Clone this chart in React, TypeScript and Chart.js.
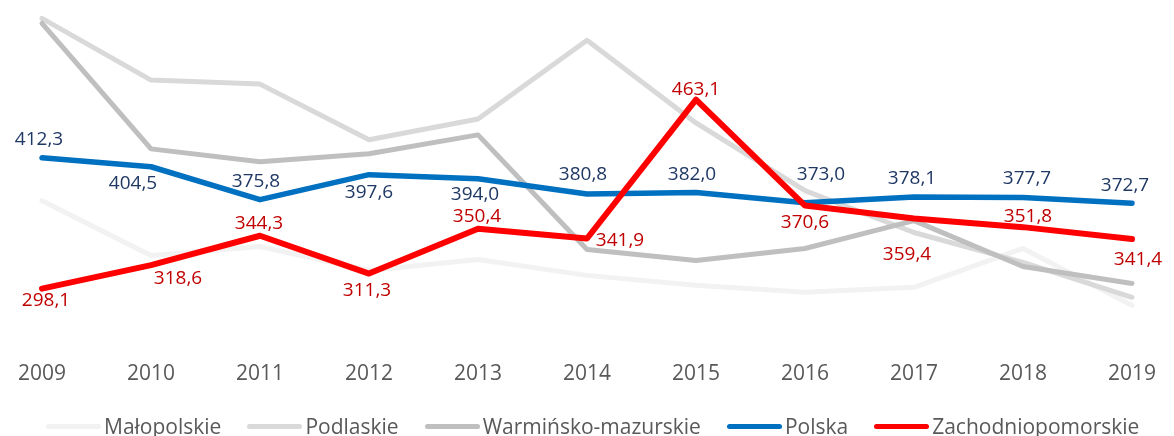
import React, { useEffect, useRef } from 'react';
import { Chart, registerables } from 'chart.js';

Chart.register(...registerables);

// ---- data ----
const years = ['2009', '2010', '2011', '2012', '2013', '2014', '2015', '2016', '2017', '2018', '2019'];
const malopolskie = [374.9, 327.1, 334.9, 314.0, 323.6, 309.7, 301.0, 294.9, 299.3, 333.2, 283.6];
const podlaskie = [534.0, 480.1, 476.6, 428.0, 446.2, 514.9, 442.7, 383.6, 347.1, 321.0, 290.6];
const warminsko = [529.7, 420.1, 408.8, 415.8, 432.3, 332.3, 322.7, 333.2, 357.5, 317.5, 302.7];
const polska = [412.3, 404.5, 375.8, 397.6, 394.0, 380.8, 382.0, 373.0, 378.1, 377.7, 372.7];
const zachodniopomorskie = [298.1, 318.6, 344.3, 311.3, 350.4, 341.9, 463.1, 370.6, 359.4, 351.8, 341.4];

const seriesNames = ['Małopolskie', 'Podlaskie', 'Warmińsko-mazurskie', 'Polska', 'Zachodniopomorskie'];
const seriesColors = ['#F2F2F2', '#D9D9D9', '#BFBFBF', '#0070C0', '#FF0000'];
const seriesWidths = [5, 5, 5, 5.5, 6];
const seriesOrder = [5, 4, 3, 2, 1];

// label placement offsets (text centre relative to point)
const polskaDx = [-3, -18, -4, 0, -3, -4, -4, 16, -2, 4, -7];
const polskaDy = [-18, 17, -18, 18, 16, -19, -18, -28, -18, -19, -18];
const zachDx = [4, 27, -1, -2, -1, 33, 0, 0, -7, 5, 6];
const zachDy = [12, 13, -12, 17, -12, 2, -10, 17, 36, -11, 21];

const FONT = "'Open Sans', 'Noto Sans', sans-serif";

const fmt = (v: number) => v.toFixed(1).replace('.', ',');

const labelCfg: Record<string, { color: string; dx: number[]; dy: number[] }> = {
  Polska: { color: '#1F3864', dx: polskaDx, dy: polskaDy },
  Zachodniopomorskie: { color: '#C00000', dx: zachDx, dy: zachDy },
};

const valueLabels = {
  id: 'valueLabels',
  afterDatasetsDraw(chart: any) {
    const ctx = chart.ctx;
    chart.data.datasets.forEach((ds: any, i: number) => {
      const cfg = labelCfg[ds.label];
      if (!cfg) return;
      const meta = chart.getDatasetMeta(i);
      ctx.save();
      ctx.font = `19px ${FONT}`;
      ctx.fillStyle = cfg.color;
      ctx.textAlign = 'center';
      ctx.textBaseline = 'middle';
      meta.data.forEach((pt: any, j: number) => {
        ctx.fillText(fmt(ds.data[j]), pt.x + cfg.dx[j], pt.y + cfg.dy[j]);
      });
      ctx.restore();
    });
  },
};

export default function App() {
  const ref = useRef<HTMLCanvasElement>(null);
  useEffect(() => {
    if (!ref.current) return;
    const allData = [malopolskie, podlaskie, warminsko, polska, zachodniopomorskie];
    const chart = new Chart(ref.current, {
      type: 'line',
      data: {
        labels: years,
        datasets: seriesNames.map((label, i) => ({
          label,
          data: allData[i],
          borderColor: seriesColors[i],
          backgroundColor: seriesColors[i],
          borderWidth: seriesWidths[i],
          pointRadius: 0,
          pointHoverRadius: 0,
          tension: 0,
          borderJoinStyle: 'round' as const,
          borderCapStyle: 'round' as const,
          order: seriesOrder[i],
          clip: false as any,
        })),
      },
      options: {
        responsive: false,
        animation: false,
        devicePixelRatio: 1,
        layout: { padding: { left: 40, right: 32, top: 0, bottom: 31 } },
        plugins: {
          tooltip: { enabled: false },
          legend: { display: false },
        },
        scales: {
          x: {
            grid: { display: false, drawTicks: false },
            border: { display: false },
            ticks: {
              color: '#595959',
              font: { family: FONT, size: 21 },
              padding: 18,
              maxRotation: 0,
              autoSkip: false,
            },
          },
          y: { display: false, min: 250, max: 550 },
        },
      },
      plugins: [valueLabels],
    });
    return () => chart.destroy();
  }, []);
  return (
    <div style={{ position: 'absolute', left: 0, top: 0, width: 1174, height: 436 }}>
      <canvas ref={ref} width={1174} height={436} style={{ display: 'block' }} />
      <div
        style={{
          position: 'absolute',
          left: 46,
          top: 413,
          height: 26,
          display: 'flex',
          alignItems: 'center',
          gap: 26,
          fontFamily: FONT,
          fontSize: 21,
          lineHeight: '26px',
          color: '#595959',
          whiteSpace: 'nowrap',
        }}
      >
        {seriesNames.map((name, i) => (
          <div key={name} style={{ display: 'flex', alignItems: 'center' }}>
            <span
              style={{
                display: 'inline-block',
                width: 55,
                height: 5,
                borderRadius: 2.5,
                background: seriesColors[i],
                marginRight: 3,
              }}
            />
            <span>{name}</span>
          </div>
        ))}
      </div>
    </div>
  );
}
